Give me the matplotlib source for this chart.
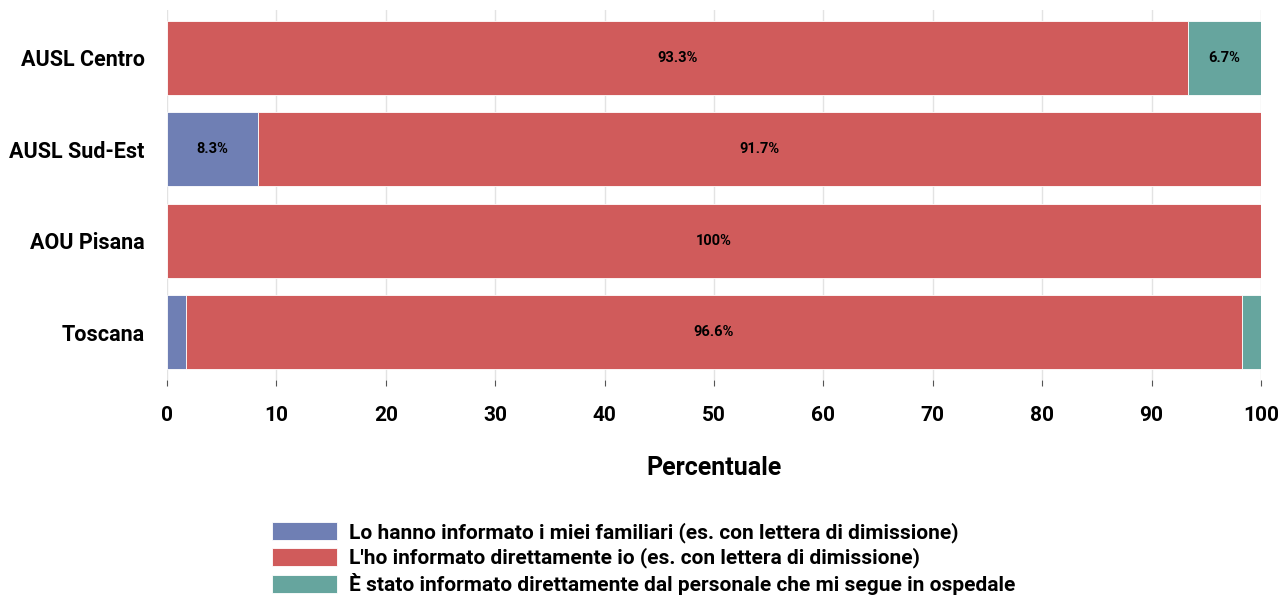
import matplotlib
matplotlib.use('Agg')
import matplotlib.pyplot as plt
import numpy as np

plt.rcParams['font.family'] = ['Roboto', 'DejaVu Sans']
plt.rcParams['font.weight'] = 'bold'

# Data
regions = ['AUSL Centro', 'AUSL Sud-Est', 'AOU Pisana', 'Toscana']
familiari = [0.0, 8.3, 0.0, 1.7]
io = [93.3, 91.7, 100.0, 96.6]
personale = [6.7, 0.0, 0.0, 1.7]
series_names = ['Lo hanno informato i miei familiari (es. con lettera di dimissione)',
                "L'ho informato direttamente io (es. con lettera di dimissione)",
                'È stato informato direttamente dal personale che mi segue in ospedale']
colors = ['#6F7FB4', '#D05B5B', '#66A59E']


def fmt(v):
    return f'{v:.0f}%' if v == 100 else f'{v:.1f}%'


fig = plt.figure(figsize=(12.78, 6.01), dpi=100)
ax = fig.add_axes([167 / 1278, 1 - 380 / 601, (1261 - 167) / 1278, 370 / 601])

y = np.arange(len(regions))
left = np.zeros(len(regions))
for vals, name, col in zip([familiari, io, personale], series_names, colors):
    vals = np.array(vals)
    bars = ax.barh(y, vals, left=left, height=0.81, color=col, edgecolor='white',
                   linewidth=0.6, label=name, zorder=2)
    for b, v, l in zip(bars, vals, left):
        if v >= 5:
            ax.text(l + v / 2, b.get_y() + b.get_height() / 2, fmt(v), ha='center',
                    va='center', fontsize=10.5, fontweight='bold', color='black', zorder=3)
    left += vals

ax.set_xlim(0, 100)
ax.set_ylim(len(regions) - 0.48, -0.52)
ax.set_yticks(y)
ax.set_yticklabels(regions, fontsize=15.5, fontweight='bold')
ax.set_xticks(np.arange(0, 101, 10))
ax.tick_params(axis='x', labelsize=15, length=4, color='#555555', pad=15)
ax.tick_params(axis='y', length=0, pad=16)
for lbl in ax.get_xticklabels():
    lbl.set_fontweight('bold')
ax.grid(axis='x', color='#E3E3E3', linewidth=1, zorder=0)
for s in ax.spines.values():
    s.set_visible(False)
ax.set_xlabel('Percentuale', fontsize=18, fontweight='bold', labelpad=22)

fig.legend(loc='upper left', bbox_to_anchor=(264 / 1278, 1 - 514 / 601), frameon=False,
           fontsize=15, handlelength=3.1, handleheight=0.95, labelspacing=0.22,
           handletextpad=0.6, borderaxespad=0)

fig.savefig('out.png', dpi=100)
